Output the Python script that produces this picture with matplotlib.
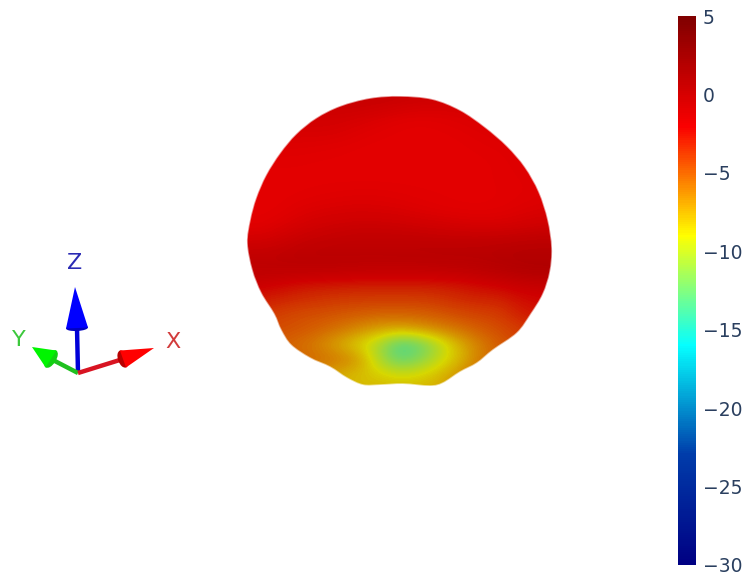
import numpy as np
import matplotlib
matplotlib.use("Agg")
import matplotlib.pyplot as plt
from matplotlib.colors import LinearSegmentedColormap, Normalize
from matplotlib.cm import ScalarMappable
from matplotlib.path import Path
from matplotlib.patches import PathPatch, Polygon, Ellipse

# --- data ---
gain_min, gain_max = -30, 5
cbar_ticks = [5, 0, -5, -10, -15, -20, -25, -30]

grid_x = [240, 260, 280, 300, 320, 340, 360, 380, 400, 420, 440, 460, 480, 500, 520, 540, 560]
grid_y = [90, 105, 120, 135, 150, 165, 180, 195, 210, 225, 240, 255, 270, 285, 300, 315, 330, 345, 360, 375, 390, 405]
gain = [
    [-.5, -.5, -.5, -.5, -.4, -.3, -.3, -.3, -.4, -.5, -.6, -.6, -.6, -.6, -.6, -.6, -.6],
    [-.7, -.7, -.7, -.6, -.5, -.4, -.4, -.5, -.7, -.9, -1.0, -1.0, -1.0, -1.0, -1.0, -1.0, -1.0],
    [-1.0, -1.0, -1.0, -.8, -.8, -.9, -1.1, -1.4, -1.7, -1.8, -1.7, -1.5, -1.3, -1.2, -1.2, -1.2, -1.2],
    [-1.3, -1.3, -1.2, -1.2, -1.2, -1.3, -1.6, -1.8, -1.9, -1.95, -1.9, -1.8, -1.6, -1.4, -1.3, -1.3, -1.3],
    [-1.6, -1.6, -1.6, -1.6, -1.7, -1.8, -1.9, -1.95, -1.95, -1.95, -1.95, -1.9, -1.8, -1.7, -1.5, -1.4, -1.4],
    [-1.8, -1.8, -1.8, -1.85, -1.9, -1.9, -1.95, -1.95, -1.95, -1.95, -1.95, -1.95, -1.9, -1.8, -1.6, -1.5, -1.5],
    [-1.9, -1.95, -1.95, -1.9, -1.9, -1.9, -1.9, -1.9, -1.9, -1.9, -1.9, -1.9, -1.9, -1.8, -1.7, -1.6, -1.6],
    [-1.9, -1.95, -1.9, -1.85, -1.75, -1.65, -1.6, -1.6, -1.7, -1.8, -1.85, -1.9, -1.9, -1.85, -1.75, -1.6, -1.5],
    [-1.9, -1.95, -1.85, -1.5, -1.3, -1.2, -1.1, -1.2, -1.3, -1.5, -1.7, -1.8, -1.85, -1.75, -1.5, -1.3, -1.2],
    [-1.7, -1.8, -1.4, -1.0, -.7, -.5, -.4, -.4, -.5, -.7, -.8, -1.0, -1.1, -1.1, -.9, -.7, -.6],
    [-1.1, -1.1, -.8, -.4, -.2, -.1, 0, 0, 0, 0, -.1, -.1, -.1, 0, .1, .2, .2],
    [-.3, -.3, -.2, 0, .1, .1, .1, .1, .2, .2, .3, .3, .3, .4, .5, .5, .5],
    [-.6, -.5, -.4, -.4, -.4, -.5, -.6, -.7, -.7, -.7, -.6, -.5, -.3, 0, .3, .5, .5],
    [-1.6, -1.8, -2.2, -2.6, -2.8, -2.9, -3.0, -3.0, -3.0, -3.0, -2.9, -2.7, -2.3, -2.0, -1.6, -1.5, -1.5],
    [-2.6, -2.9, -3.2, -3.5, -3.7, -3.9, -4.0, -4.0, -4.0, -4.0, -3.8, -3.4, -3.2, -3.2, -2.5, -2.2, -2.0],
    [-3.6, -3.9, -4.2, -4.5, -4.7, -4.9, -5.1, -5.3, -5.3, -5.2, -4.9, -4.5, -4.2, -4.0, -3.0, -2.7, -2.5],
    [-4.4, -4.4, -4.5, -4.8, -5.2, -5.8, -6.6, -7.3, -7.5, -7.0, -6.3, -5.7, -5.0, -4.5, -4.0, -3.6, -3.2],
    [-5.0, -5.0, -5.2, -5.6, -6.4, -7.7, -9.0, -10.8, -13.8, -12.8, -10.2, -7.8, -6.2, -5.0, -4.2, -3.7, -3.2],
    [-5.0, -5.0, -5.0, -5.2, -5.5, -5.9, -7.0, -10.5, -13.0, -11.7, -9.6, -8.0, -6.0, -5.2, -4.5, -4.0, -3.5],
    [-5.5, -5.5, -6.0, -6.5, -7.0, -7.8, -8.3, -8.6, -9.2, -8.8, -8.0, -6.6, -5.6, -5.0, -4.5, -4.0, -4.0],
    [-6.5, -6.5, -6.5, -6.5, -6.8, -7.6, -8.0, -8.0, -8.0, -8.0, -7.6, -6.5, -6.0, -5.5, -5.0, -5.0, -5.0],
    [-6.5, -6.5, -6.5, -6.5, -6.8, -7.0, -7.3, -7.5, -7.6, -7.5, -7.2, -6.5, -6.0, -5.5, -5.0, -5.0, -5.0],
]
# brightness of the lit surface on each grid row
row_shade = [.90, .91, .92, .92, .92, .92, .92, .92, .92, .92, .90, .88, .85, .82, .83, .84, .84, .84, .84, .84, .84, .84]

# silhouette of the pattern, in reference pixels
outline_x = [400, 432, 460, 485, 507, 525, 539, 548, 552, 550, 543, 531, 517, 493, 477, 460, 443, 430, 403, 380,
             363, 347, 330, 310, 291, 281, 274, 261, 252, 247, 250, 256, 266, 280, 296, 316, 340, 370]
outline_y = [96, 99, 110, 127, 146, 167, 192, 220, 248, 272, 294, 314, 333, 350, 363, 372, 383, 386, 384, 385,
             385, 378, 367, 358, 345, 330, 314, 293, 270, 243, 220, 198, 175, 153, 134, 118, 106, 98]

# orientation triad, in reference pixels
triad_origin = (78, 373)
triad_names = ["Z", "Y", "X"]
triad_tips = [(75, 287), (32, 347), (154, 348)]
triad_bases = [(77, 328), (51, 359), (123, 359)]
triad_halfwidths = [11, 10, 9]
triad_base_depth = [6, 10, 10]
triad_label_xy = [(75, 263), (19, 340), (173, 342)]

# --- style ---
jet_stops = [(0, "#000083"), (.2, "#003caa"), (.4, "#05ffff"), (.6, "#ffff00"), (.8, "#fa0000"), (1, "#800000")]
jet = LinearSegmentedColormap.from_list("plotly_jet", jet_stops)
norm = Normalize(gain_min, gain_max)
tick_color = "#2a3f5f"
shaft_colors = ["#0000d8", "#1fc01f", "#d81422"]
cone_colors = ["#0000ff", "#00f500", "#ff0000"]
base_colors = ["#0000c0", "#12d012", "#b80000"]
label_colors = ["#2b2bb4", "#3cc83c", "#d23c3c"]

fig = plt.figure(figsize=(7.45, 5.78), dpi=100, facecolor="white")
ax = fig.add_axes([0, 0, 1, 1])

dx = grid_x[1] - grid_x[0]
dy = grid_y[1] - grid_y[0]
extent = (grid_x[0] - dx / 2, grid_x[-1] + dx / 2, grid_y[-1] + dy / 2, grid_y[0] - dy / 2)
im = ax.imshow(np.array(gain), cmap=jet, norm=norm, interpolation="bicubic", aspect="auto",
               origin="upper", extent=extent, zorder=1)
shade_rgba = np.zeros((len(grid_y), 1, 4))
shade_rgba[:, 0, 3] = 1 - np.array(row_shade)
shade_im = ax.imshow(shade_rgba, interpolation="bicubic", aspect="auto", origin="upper",
                     extent=extent, zorder=2)

# smooth closed path through the outline points (Catmull-Rom as Bezier segments)
pts = np.column_stack([outline_x, outline_y]).astype(float)
n = len(pts)
verts = [pts[0]]
codes = [Path.MOVETO]
for i in range(n):
    p0, p1, p2, p3 = pts[i - 1], pts[i], pts[(i + 1) % n], pts[(i + 2) % n]
    verts += [p1 + (p2 - p0) / 6, p2 - (p3 - p1) / 6, p2]
    codes += [Path.CURVE4] * 3
shape = Path(verts, codes)
for image in (im, shade_im):
    image.set_clip_path(PathPatch(shape, transform=ax.transData))
ax.add_patch(PathPatch(shape, fill=False, edgecolor="white", lw=1.2, alpha=0.55, zorder=3))

for name, tip, base, hw, depth, shaft, cone, bcol, lxy, lcol in zip(
    triad_names, triad_tips, triad_bases, triad_halfwidths, triad_base_depth, shaft_colors,
    cone_colors, base_colors, triad_label_xy, label_colors,
):
    ax.plot([triad_origin[0], base[0]], [triad_origin[1], base[1]], color=shaft, lw=3.2,
            solid_capstyle="butt", zorder=4)
    tip_a, base_a = np.array(tip, float), np.array(base, float)
    d = tip_a - base_a
    d /= np.hypot(*d)
    nrm = np.array([-d[1], d[0]])
    ang = np.degrees(np.arctan2(nrm[1], nrm[0]))
    ax.add_patch(Ellipse(base_a, 2 * hw, depth, angle=ang, facecolor=bcol, edgecolor="none", zorder=5))
    ax.add_patch(Polygon([tip_a, base_a + nrm * hw, base_a - nrm * hw], closed=True,
                         facecolor=cone, edgecolor="none", zorder=6))
    ax.text(lxy[0], lxy[1], name, color=lcol, fontsize=16, ha="center", va="center",
            family="DejaVu Sans", zorder=7)

ax.set_xlim(0, 745)
ax.set_ylim(578, 0)
ax.axis("off")

cax = fig.add_axes([678 / 745, 1 - 565 / 578, 18 / 745, 549 / 578])
cb = fig.colorbar(ScalarMappable(norm=norm, cmap=jet), cax=cax)
cb.outline.set_visible(False)
cb.set_ticks(cbar_ticks)
cax.tick_params(length=0, pad=5, labelsize=13.5, labelcolor=tick_color)

fig.savefig("out.png", dpi=100, facecolor="white")
